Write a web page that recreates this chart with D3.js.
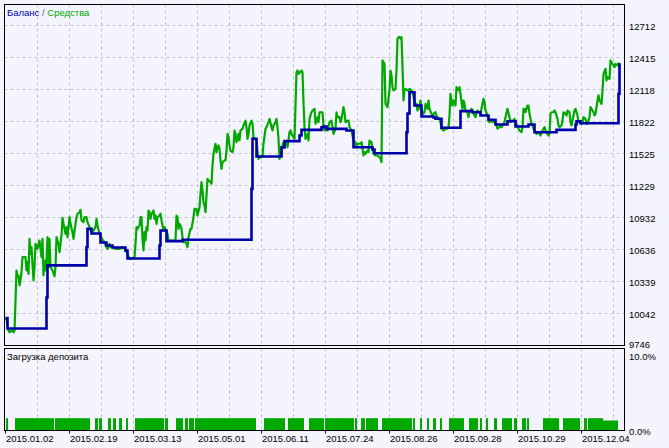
<!DOCTYPE html>
<html><head><meta charset="utf-8">
<script src="https://cdn.jsdelivr.net/npm/d3@7/dist/d3.min.js"></script>
<style>
html,body{margin:0;padding:0;background:#F4F4FC;}
text{font-family:Tahoma,"Liberation Sans",Arial,sans-serif;}
</style></head>
<body>
<svg id="c" width="669" height="448"></svg>
<script>
// ---- data ----
const dateLabels = ["2015.01.02","2015.02.19","2015.03.13","2015.05.01","2015.06.11","2015.07.24","2015.08.26","2015.09.28","2015.10.29","2015.12.04"];
const yTicks = [9746,10042,10339,10636,10932,11229,11525,11822,12118,12415,12712];
const loadTicks = [0,10];
const totalDeals = 616;

// equity (deal index, value)
const equityDeal = [0,1,3,4,6,8,9,10,11,12,13,14,15,16,17,20,21,22,23,24,25,26,28,29,30,32,33,34,36,37,38,39,40,41,42,43,44,45,47,49,50,51,53,54,56,57,58,60,61,62,64,65,67,68,70,71,72,74,75,76,78,79,81,82,84,85,87,90,91,92,94,95,97,99,100,102,104,105,107,110,114,117,119,120,122,124,125,129,130,131,132,134,135,136,137,138,139,140,141,142,143,144,145,146,148,149,150,151,152,154,155,156,158,159,160,162,163,166,170,171,172,173,174,175,176,177,178,180,181,182,183,185,186,188,189,191,192,194,195,196,197,198,199,200,202,203,205,206,207,208,210,211,212,213,214,215,216,217,219,220,221,222,223,224,225,227,228,229,230,231,233,234,235,237,238,240,241,242,243,244,246,247,248,251,252,253,254,256,257,258,260,261,263,264,266,267,268,270,271,272,273,274,275,276,277,278,280,281,282,284,285,286,288,289,290,291,292,293,294,295,296,297,298,299,300,302,303,304,306,307,309,310,312,313,314,317,318,319,321,322,324,326,327,328,330,331,332,334,335,336,338,339,340,342,343,344,346,347,348,350,351,352,355,356,358,359,360,362,363,364,366,367,368,370,372,374,375,376,377,379,380,381,382,384,385,386,387,388,390,391,392,393,394,395,396,397,398,399,400,402,403,404,406,407,408,410,411,412,414,415,416,418,419,420,422,423,424,426,427,428,430,431,432,434,435,436,438,439,440,442,443,444,445,446,447,448,450,451,452,454,455,456,457,458,459,460,462,463,464,466,467,468,470,471,472,474,475,476,478,479,480,482,483,484,486,487,488,490,491,492,494,495,496,498,499,500,502,504,505,506,508,509,510,512,513,514,516,517,518,519,520,522,523,524,526,527,528,530,531,532,534,535,536,538,539,540,542,543,544,545,546,548,549,550,552,553,554,556,557,558,560,561,562,564,565,566,568,569,570,572,573,574,576,577,578,580,581,582,584,585,586,588,589,590,592,593,594,596,597,598,600,601,602,604,605,606,608,609,610,612,613,614];
const equityValue = [10000,9987,9883,9869,9883,9869,9883,10163,10441,10379,10395,10302,10349,10425,10565,10565,10441,10518,10410,10735,10594,10657,10349,10472,10688,10642,10688,10719,10565,10735,10395,10534,10441,10534,10750,10472,10735,10472,10441,10386,10472,10750,10688,10611,10766,10930,10874,10781,10843,10750,10935,10874,10796,10735,10874,10935,10967,10981,11004,10905,10889,10935,10935,10889,10843,10812,10796,10843,10920,10858,10781,10766,10726,10704,10673,10642,10688,10657,10657,10642,10642,10657,10642,10627,10596,10549,10549,10565,10688,10843,10827,10858,10935,10935,10735,10627,10796,10719,10843,10812,10997,10981,10920,10967,10997,10920,10951,10874,10935,10951,10967,10905,10812,10843,10827,10781,10719,10719,10719,10951,10935,10827,10874,10858,10827,10750,10704,10704,10688,10657,10750,10827,10827,10935,11013,11013,10951,11028,11152,11260,11183,11074,11044,10982,11291,11275,11260,11245,11414,11523,11616,11538,11584,11600,11569,11461,11384,11445,11461,11461,11553,11708,11677,11600,11553,11538,11584,11739,11708,11630,11708,11646,11739,11754,11785,11831,11770,11662,11708,11785,11831,11801,11677,11646,11553,11476,11491,11491,11507,11616,11755,11770,11816,11847,11770,11739,11785,11816,11847,11770,11662,11476,11584,11523,11600,11630,11616,11630,11584,11723,11739,11708,11677,11662,11970,12279,12295,12264,12279,12279,12295,12279,12001,11770,11662,11708,11646,11847,11908,11924,11940,11801,11862,11816,11908,11908,11785,11739,11755,11739,11816,11831,11770,11708,11755,11908,11862,11862,11816,11847,11955,11908,11816,11831,11831,11770,11739,11692,11646,11630,11584,11616,11616,11630,11507,11538,11523,11553,11538,11646,11630,11569,11523,11507,11507,11491,11476,11445,12388,12357,11986,11970,11955,12110,12295,12249,12140,12110,12125,12295,12589,12604,12604,12589,12604,12326,12017,12110,12125,12110,12110,12125,12110,12094,12047,11970,11986,11924,11955,12017,11924,11894,11908,11986,11940,12017,11940,11894,11878,11894,11908,11878,11862,11847,11816,11755,11739,11745,11755,11755,11770,11878,12079,12017,11970,12017,11970,12140,12110,12140,12079,12001,11940,12017,11986,11924,11908,11862,11908,11940,11924,11894,11862,11908,11924,11908,11894,11940,12032,12001,11924,11878,11831,11816,11831,11816,11831,11801,11785,11755,11770,11785,11770,11801,11816,11862,11940,11862,11816,11831,11831,11847,11816,11785,11755,11739,11723,11770,11940,11940,11908,11970,11970,11894,11801,11785,11755,11723,11708,11723,11708,11692,11723,11755,11770,11739,11708,11692,11708,11894,11908,11908,11924,11908,11847,11785,11770,11785,11831,11908,11894,11878,11924,11908,11816,11785,11878,11924,11940,11878,11816,11816,11801,11816,11862,11847,11801,11801,11862,11955,11940,11908,11878,11894,12017,12064,12017,11986,12110,12264,12311,12202,12233,12218,12388,12372,12341,12326,12357,12341,12362,12362];

// balance (deal index, value) — steps
const balanceDeal  = [0,2,41,42,81,82,86,95,101,107,120,122,154,155,161,177,246,247,251,276,279,294,296,316,318,321,341,348,367,369,401,402,404,409,416,428,430,436,455,467,475,483,490,502,510,523,529,551,570,571,575,613,614];
const balanceValue = [10000,9904,10191,10489,10657,10828,10784,10701,10673,10654,10627,10552,10673,10812,10713,10726,11198,11662,11498,11581,11640,11692,11745,11769,11776,11754,11739,11584,11563,11528,11723,11896,12094,11970,11868,11859,11847,11764,11918,11908,11878,11838,11794,11825,11776,11794,11723,11745,11794,11825,11806,12079,12362];

// deposit load bars (start deal, end deal, %)
const loadStart = [1,10,50,90,94,103,108,114,121,130,160,171,174,180,184,190,259,283,304,320,350,356,361,377,382,408,415,422,428,435,444,464,475,481,489,497,509,517,522,538,558,579,583,597];
const loadEnd   = [2,48,84,92,96,105,110,116,122,158,162,173,177,182,188,250,279,298,318,348,351,359,372,381,406,409,416,423,430,436,458,472,476,482,491,506,511,520,523,553,574,581,597,612];
const loadValue = [1.6,1.6,1.6,1.6,1.6,1.6,1.6,1.6,1.6,1.6,1.6,1.6,1.6,1.6,1.6,1.6,1.6,1.6,1.6,1.6,1.6,1.6,1.6,1.6,1.6,1.6,1.6,1.6,1.6,1.6,1.6,1.6,1.6,1.6,1.6,1.6,1.6,1.6,1.6,1.6,1.6,1.6,1.6,1.3];

// ---- drawing ----
const svg = d3.select("#c");
const BG = "#F4F4FC", GRID = "#C4C4CC", BLUE = "#0000AA", GREEN = "#00A800";
svg.append("rect").attr("width",669).attr("height",448).attr("fill",BG);

const L = 4.5, R = 624.5, T = 4.5, B = 345.5, LT = 348.5, LB = 430.5;
const x = d3.scaleLinear().domain([0, totalDeals]).range([5.5, 621.5]);
const y = d3.scaleLinear().domain([9746, 12712]).range([345.5, 25.5]);
const yl = d3.scaleLinear().domain([0, 10]).range([LB, 353.5]);

const gridDeals = d3.range(32, totalDeals, 32);
const labelDeals = dateLabels.map((d,i)=>i*64);

// grids main
const g = svg.append("g");
g.selectAll(".hg").data(yTicks.slice(1)).enter().append("line")
  .attr("x1",L).attr("x2",R).attr("y1",d=>Math.round(y(d)-0.5)+0.5).attr("y2",d=>Math.round(y(d)-0.5)+0.5)
  .attr("stroke",GRID).attr("stroke-dasharray","3,3");
g.selectAll(".vg").data(gridDeals).enter().append("line")
  .attr("x1",d=>x(d)).attr("x2",d=>x(d)).attr("y1",T).attr("y2",B)
  .attr("stroke",GRID).attr("stroke-dasharray","3,3");
// grids lower
g.selectAll(".vg2").data(gridDeals).enter().append("line")
  .attr("x1",d=>x(d)).attr("x2",d=>x(d)).attr("y1",LT).attr("y2",LB)
  .attr("stroke",GRID).attr("stroke-dasharray","3,3");

// equity
const eq = equityDeal.map((d,i)=>[d,equityValue[i]]);
svg.append("path").datum(eq)
  .attr("d", d3.line().x(d=>x(d[0])).y(d=>y(d[1])))
  .attr("fill","none").attr("stroke",GREEN).attr("stroke-width",2.2).attr("stroke-linejoin","round");
// balance
const bal = balanceDeal.map((d,i)=>[d,balanceValue[i]]);
svg.append("path").datum(bal)
  .attr("d", d3.line().x(d=>x(d[0])).y(d=>y(d[1])).curve(d3.curveStepAfter))
  .attr("fill","none").attr("stroke",BLUE).attr("stroke-width",2.6);

// load bars
svg.selectAll(".bar").data(loadStart.map((s,i)=>({s, e:loadEnd[i], v:loadValue[i]}))).enter().append("rect")
  .attr("x",d=>x(d.s)-0.5).attr("width",d=>x(d.e)-x(d.s)+1)
  .attr("y",d=>yl(d.v)).attr("height",d=>LB-yl(d.v))
  .attr("fill",GREEN);

// borders
svg.append("rect").attr("x",L).attr("y",T).attr("width",R-L).attr("height",B-T).attr("fill","none").attr("stroke","#000");
svg.append("rect").attr("x",L).attr("y",LT).attr("width",R-L).attr("height",LB-LT).attr("fill","none").attr("stroke","#000");

// right axis labels
const fs = 9.5;
svg.selectAll(".yl").data(yTicks).enter().append("text")
  .attr("x",629).attr("y",d=> d===yTicks[0] ? y(d)-0.5 : y(d)+1).attr("dy","0.35em").attr("font-size",fs).attr("fill","#000").text(d=>d);
svg.selectAll(".yl2").data(loadTicks).enter().append("text")
  .attr("x",629).attr("y",d=> d===10 ? yl(d)+3 : yl(d)+1).attr("dy","0.35em").attr("font-size",fs).attr("fill","#000").text(d=>d.toFixed(1)+"%");

// bottom ticks + dates
svg.selectAll(".bt").data(labelDeals).enter().append("line")
  .attr("x1",d=>x(d)).attr("x2",d=>x(d)).attr("y1",LB).attr("y2",LB+3).attr("stroke","#000");
svg.selectAll(".dl").data(dateLabels).enter().append("text")
  .attr("x",(d,i)=>x(labelDeals[i])+0.5).attr("y",439).attr("dy","0.35em").attr("font-size",fs).attr("fill","#000").text(d=>d);

// legend
const lg = svg.append("text").attr("x",7).attr("y",13).attr("dy","0.35em").attr("font-size",fs);
lg.append("tspan").attr("fill",BLUE).text("Баланс");
lg.append("tspan").attr("fill","#5050A0").text(" / ");
lg.append("tspan").attr("fill",GREEN).text("Средства");
svg.append("text").attr("x",7).attr("y",357).attr("dy","0.35em").attr("font-size",fs).attr("fill","#000").text("Загрузка депозита");
</script>
</body></html>
